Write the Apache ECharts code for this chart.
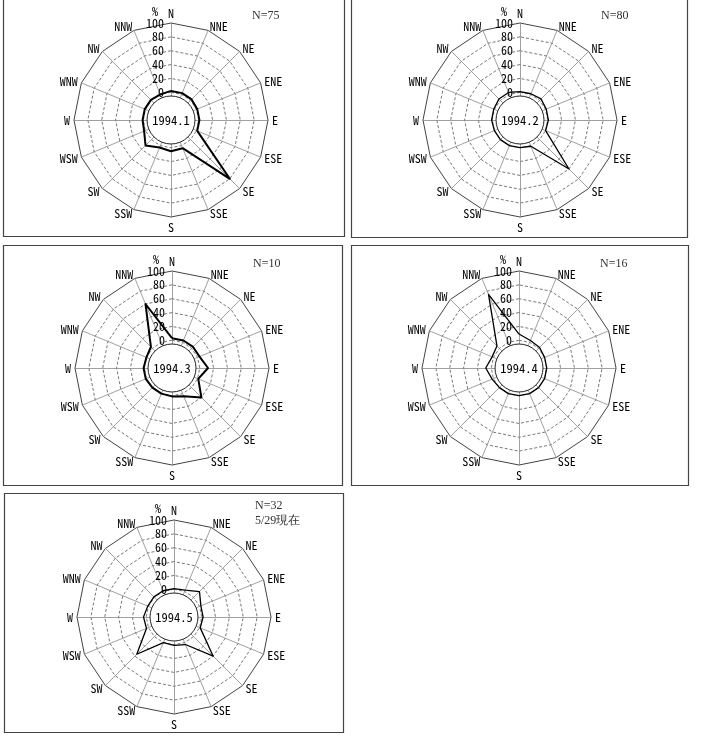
<!DOCTYPE html>
<html><head><meta charset="utf-8">
<script src="https://cdn.jsdelivr.net/npm/echarts@6/dist/echarts.min.js"></script>
<style>html,body{margin:0;padding:0;background:#fff}#c{width:710px;height:738px}</style>
</head><body><div id="c"></div>
<script>
// ---- data ----
const directions = ['N','NNE','NE','ENE','E','ESE','SE','SSE','S','SSW','SW','WSW','W','WNW','NW','NNW'];
const radialTicks = [0, 20, 40, 60, 80, 100];
const periods = ['1994.1', '1994.2', '1994.3', '1994.4', '1994.5'];
const sampleCounts = ['N=75', 'N=80', 'N=10', 'N=16', 'N=32'];
const note5 = '5/29現在';
const freq1994_1 = [2, 2, 2, 1, 1, 1, 80, 4, 5, 3, 12, 2, 1, 1, 1, 0];
const freq1994_2 = [1, 1, 3, 1, 1, 0, 60, 1, 0, 0, 0, 0, 1, 1, 3, 3];
const freq1994_3 = [3, 3, 3, 3, 12, 1, 20, 4, 1, 0, 0, 1, 1, 0, 3, 60];
const freq1994_4 = [9, 3, 2, 0, 0, 0, 0, 0, 0, 0, 0, 2, 8, 2, 5, 75];
const freq1994_5 = [1, 2, 12, 2, 2, 1, 40, 3, 1, 0, 36, 3, 4, 1, 1, 1];
const allFreq = [freq1994_1, freq1994_2, freq1994_3, freq1994_4, freq1994_5];

// ---- layout ----
const layout = [
  {cx: 171, cy: 120, box: [3, -3, 341, 239], lw: 2},
  {cx: 520, cy: 120, box: [351, -3, 336, 240], lw: 1.3},
  {cx: 172, cy: 368, box: [3, 245, 339, 240], lw: 2},
  {cx: 519, cy: 368, box: [351, 245, 337, 240], lw: 1.3},
  {cx: 174, cy: 617, box: [4, 493, 339, 239], lw: 1.3}
];
const R = 97, HOLE = 24;
const AXMIN = -40, AXMAX = 100;
const mono = "'Noto Sans Mono CJK JP','DejaVu Sans Mono',monospace";
const serif = "'Liberation Serif','DejaVu Serif',serif";

// ECharts radar runs counter-clockwise from the top: reorder compass list
const order = [0].concat(directions.map((d, i) => i).slice(1).reverse());

const radars = [], series = [], graphics = [];
layout.forEach((p, k) => {
  const indicator = order.map((di, j) => {
    const ind = {name: directions[di], min: AXMIN, max: AXMAX};
    if (j === 0) {
      ind.axisLabel = {
        show: true, color: '#000', fontSize: 12, fontFamily: mono, margin: 7,
        formatter: v => (radialTicks.indexOf(v) >= 0 ? String(v) : '')
      };
    }
    return ind;
  });
  // main grid radar
  radars.push({
    center: [p.cx, p.cy], radius: R, startAngle: 90, shape: 'polygon',
    splitNumber: (AXMAX - AXMIN) / 20,
    indicator: indicator,
    axisName: {color: '#000', fontSize: 12, fontFamily: mono},
    axisNameGap: 4,
    splitLine: {lineStyle: {
      color: ['rgba(0,0,0,0)', 'rgba(0,0,0,0)', '#555', '#555', '#555', '#555', '#555', 'rgba(0,0,0,0)'],
      type: [3, 2], width: 0.8}},
    splitArea: {show: false},
    axisLine: {lineStyle: {color: '#888', width: 0.8}},
    axisTick: {show: false},
    axisLabel: {show: false}
  });
  // outer solid ring
  radars.push({
    center: [p.cx, p.cy], radius: R, startAngle: 90, shape: 'polygon', splitNumber: 1,
    indicator: order.map(di => ({name: directions[di], min: AXMIN, max: AXMAX})),
    axisName: {show: false},
    splitLine: {lineStyle: {color: '#444', width: 1}},
    splitArea: {show: false},
    axisLine: {show: false}, axisTick: {show: false}, axisLabel: {show: false}
  });
  series.push({
    type: 'radar', radarIndex: 2 * k, symbol: 'none', silent: true, z: 4,
    lineStyle: {color: '#000', width: p.lw},
    data: [{value: order.map(di => allFreq[k][di])}]
  });
  series.push({
    type: 'pie', center: [p.cx, p.cy], radius: [0, HOLE], silent: true, z: 6,
    label: {show: true, position: 'center', formatter: periods[k], color: '#000',
      fontSize: 12.5, fontFamily: mono},
    labelLine: {show: false},
    emphasis: {disabled: true},
    itemStyle: {color: '#fff', borderColor: '#222', borderWidth: 1},
    data: [{value: 1, name: periods[k]}]
  });
  const b = p.box;
  graphics.push({type: 'rect', shape: {x: b[0] + 0.5, y: b[1] + 0.5, width: b[2], height: b[3]},
    style: {fill: 'none', stroke: '#444', lineWidth: 1.2}, silent: true, z: -1});
  graphics.push({type: 'text', x: p.cx - 16, y: p.cy - R - 12,
    style: {text: '%', fill: '#000', font: '12px ' + mono, textAlign: 'center', textVerticalAlign: 'middle'}});
  graphics.push({type: 'text', x: p.cx + 81, y: p.cy - 104,
    style: {text: sampleCounts[k] + (k === 4 ? '\n' + note5 : ''), fill: '#333',
      font: '12px ' + serif, textAlign: 'left', textVerticalAlign: 'middle', lineHeight: 15}});
});

const chart = echarts.init(document.getElementById('c'));
chart.setOption({
  animation: false,
  backgroundColor: '#fff',
  radar: radars,
  series: series,
  graphic: graphics
});
</script>
</body></html>
